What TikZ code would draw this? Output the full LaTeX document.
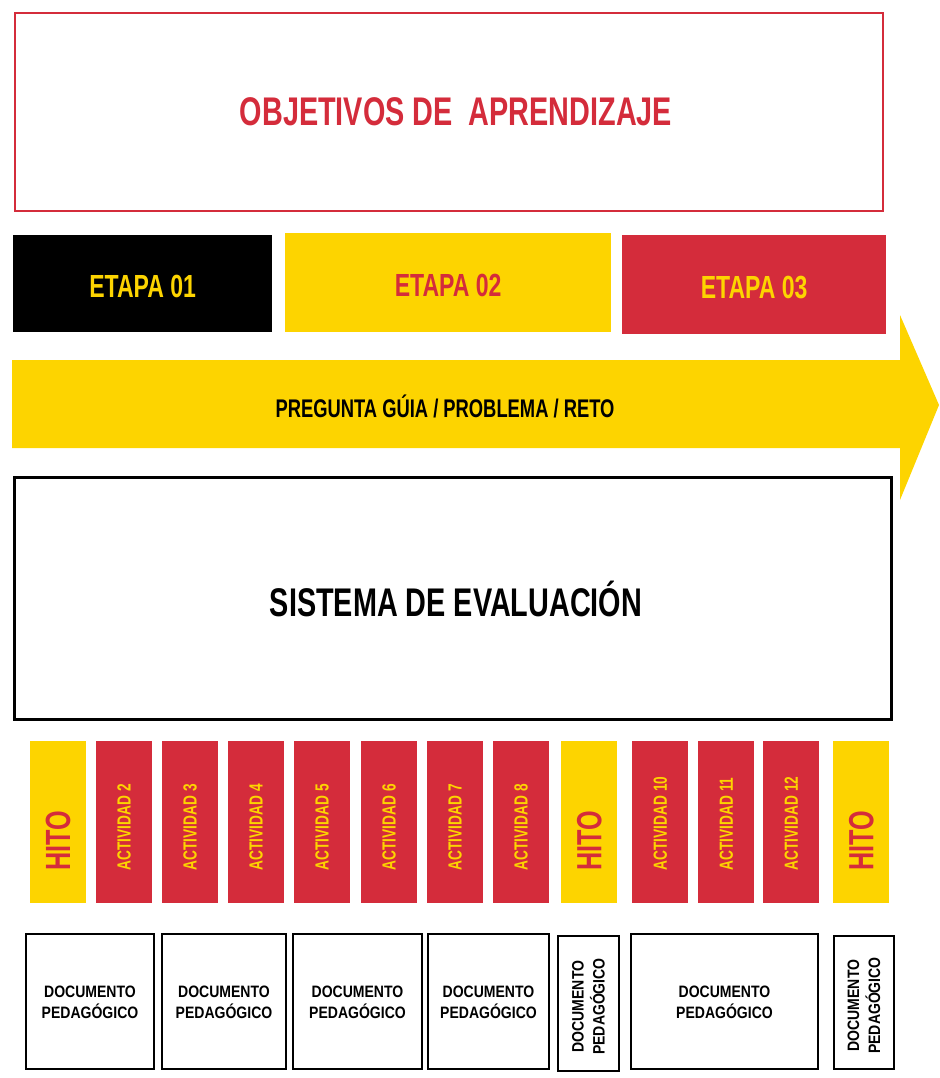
\documentclass[tikz,border=0pt]{standalone}
\usepackage{fontspec}
\setmainfont{Liberation Sans}[FakeStretch=0.72]
\newfontfamily\docfont{Liberation Sans}[FakeStretch=0.85]
\definecolor{cred}{HTML}{D42C3B}
\definecolor{cyel}{HTML}{FDD400}
\begin{document}
\begin{tikzpicture}[x=1pt,y=-1pt,
  lbl/.style={font=\bfseries, inner sep=0pt, align=center},
  bigtxt/.style={lbl, font=\fontsize{40}{40}\selectfont\bfseries},
  etxt/.style={lbl, font=\fontsize{32}{32}\selectfont\bfseries},
  bar/.style={minimum width=56pt, minimum height=162pt, inner sep=0pt, anchor=north west},
  acttxt/.style={lbl, font=\fontsize{19}{19}\selectfont\bfseries, text=cyel, rotate=90, anchor=west},
  hitotxt/.style={lbl, font=\fontsize{35}{35}\selectfont\bfseries, text=cred, rotate=90, anchor=west},
  doc/.style={draw=black, line width=2pt, inner sep=0pt, anchor=north west},
  doctxt/.style={lbl, font=\docfont\fontsize{16.5}{21}\selectfont\bfseries}
]
\useasboundingbox (0,0) rectangle (939,1078);

% Objetivos
\node[draw=cred, line width=2pt, minimum width=868pt, minimum height=198pt, anchor=north west, inner sep=0pt] (obj) at (14,12) {};
\node[bigtxt, text=cred] (objt) at ([xshift=7pt]obj.center) {OBJETIVOS DE\ \ APRENDIZAJE};

% Etapas
\node[fill=black, minimum width=259pt, minimum height=97pt, anchor=north west, inner sep=0pt] (e1) at (13,235) {};
\node[etxt, text=cyel] (e1t) at ([yshift=-3pt]e1.center) {ETAPA 01};
\node[fill=cyel, minimum width=326pt, minimum height=99pt, anchor=north west, inner sep=0pt] (e2) at (285,233) {};
\node[etxt, text=cred] (e2t) at ([yshift=-3pt]e2.center) {ETAPA 02};
\node[fill=cred, minimum width=264pt, minimum height=99pt, anchor=north west, inner sep=0pt] (e3) at (622,235) {};
\node[etxt, text=cyel] (e3t) at ([yshift=-3pt]e3.center) {ETAPA 03};

% Arrow
\fill[cyel] (12,360) -- (900,360) -- (900,315) -- (939,405) -- (900,500) -- (900,448) -- (12,448) -- cycle;
\node[lbl, font=\fontsize{25.5}{25.5}\selectfont\bfseries] (preg) at (445,406) {PREGUNTA GÚIA / PROBLEMA / RETO};

% Sistema
\node[draw=black, line width=3pt, minimum width=877pt, minimum height=242pt, anchor=north west, inner sep=0pt] (sis) at (13,476) {};
\node[bigtxt] (sist) at ([xshift=3pt]sis.center) {SISTEMA DE EVALUACIÓN};

% Bars
\foreach \n/\x/\c in {h1/30/cyel, a2/96/cred, a3/162/cred, a4/228/cred, a5/294/cred, a6/361/cred, a7/427/cred, a8/493/cred, h2/561/cyel, a10/632/cred, a11/698/cred, a12/763/cred, h3/833/cyel}
  \node[bar, fill=\c] (\n) at (\x,741) {};
\foreach \n/\t in {a2/2, a3/3, a4/4, a5/5, a6/6, a7/7, a8/8, a10/10, a11/11, a12/12}
  \node[acttxt] (\n t) at ([yshift=33pt]\n.south) {ACTIVIDAD \t};
\foreach \n in {h1,h2,h3}
  \node[hitotxt] (\n t) at ([yshift=33pt]\n.south) {HITO};

% Documentos
\node[doc, minimum width=128pt, minimum height=135pt] (d1) at (25,933) {};
\node[doc, minimum width=124pt, minimum height=135pt] (d2) at (161,933) {};
\node[doc, minimum width=129pt, minimum height=135pt] (d3) at (292,933) {};
\node[doc, minimum width=121pt, minimum height=135pt] (d4) at (427,933) {};
\node[doc, minimum width=61pt, minimum height=135pt] (d5) at (557,935) {};
\node[doc, minimum width=187pt, minimum height=135pt] (d6) at (630,933) {};
\node[doc, minimum width=60pt, minimum height=133pt] (d7) at (833,935) {};
\foreach \n in {d1,d2,d3,d4,d6}
  \node[doctxt] (\n t) at ([yshift=-1pt]\n.center) {DOCUMENTO\\PEDAGÓGICO};
\foreach \n in {d5,d7}
  \node[doctxt, rotate=90] (\n t) at ([yshift=-3pt]\n.center) {DOCUMENTO\\PEDAGÓGICO};
\end{tikzpicture}
\end{document}
